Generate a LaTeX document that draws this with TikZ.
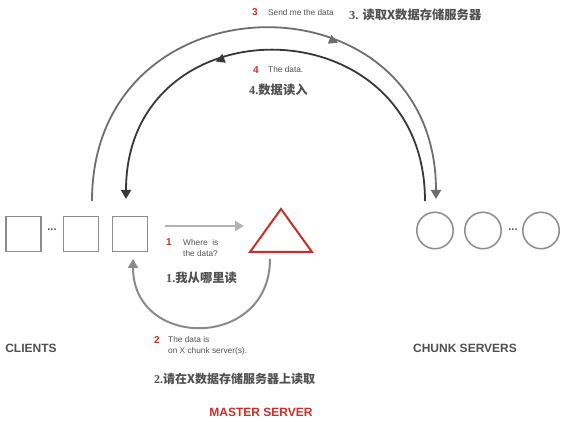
\documentclass[tikz,border=0pt]{standalone}
\usepackage{fontspec}
\setmainfont{Liberation Sans}
\newfontfamily\cjk{Noto Sans CJK SC}
\newfontfamily\numfont{Liberation Serif}
\usetikzlibrary{arrows.meta,decorations.markings}
\definecolor{gfsred}{HTML}{C4302B}
\definecolor{arcgray}{HTML}{6E6E6E}
\definecolor{arcdark}{HTML}{383838}
\definecolor{arclight}{HTML}{8A8A8A}
\definecolor{boxgray}{HTML}{8C8C8C}
\definecolor{txtgray}{HTML}{505050}
\tikzset{
  client/.style={draw=boxgray,line width=1.5pt,minimum size=35pt,inner sep=0pt},
  chunk/.style={circle,draw=boxgray,line width=1.5pt,minimum size=36.5pt,inner sep=0pt},
  role/.style={font=\bfseries\fontsize{12}{14}\selectfont,text=txtgray},
  stepno/.style={font=\bfseries\fontsize{10}{12}\selectfont,text=gfsred,anchor=west,inner sep=0pt},
  note/.style={font=\fontsize{8.3}{10.5}\selectfont,text=txtgray,align=left,anchor=west,inner sep=0pt},
  zhnote/.style={font=\cjk\bfseries\fontsize{12.3}{14}\selectfont,text=txtgray,anchor=west,inner sep=0pt},
  dotsep/.style={font=\bfseries\fontsize{11}{11}\selectfont,text=txtgray,inner sep=0pt},
  tip/.style={-{Triangle[length=9pt,width=10pt]}},
  midtip/.style={postaction={decorate},decoration={markings,
    mark=at position #1 with {\arrow{Triangle[length=9pt,width=9pt]}}}},
}
\begin{document}
\begin{tikzpicture}[x=1pt,y=1pt]
    \useasboundingbox (0,0) rectangle (568,-422);
    % clients
    \node[client] (c1) at (23.5,-234) {};
    \node[client] (c2) at (81,-234) {};
    \node[client] (c3) at (130,-234) {};
    \node[dotsep] (cdots) at (52,-230) {...};
    % chunk servers
    \node[chunk] (s1) at (435,-230.5) {};
    \node[chunk] (s2) at (483,-230.5) {};
    \node[chunk] (s3) at (541,-230.5) {};
    \node[dotsep] (sdots) at (513,-230) {...};
    % master server
    \coordinate (mtop) at (281,-209);
    \draw[gfsred,line width=2pt] (mtop) -- (312,-252) -- (250,-252) -- cycle;
    % end points of the connectors
    \coordinate (q1) at (165,-226);
    \coordinate (q2) at (244,-226);
    \coordinate (a1) at (270,-259);
    \coordinate (a2) at (133,-259);
    \coordinate (o1) at (92,-201);
    \coordinate (o2) at (436,-199);
    \coordinate (i1) at (425,-201);
    \coordinate (i2) at (126,-199);
    % step 1 and 2
    \draw[draw=black!30,line width=2pt,tip] (q1) -- (q2);
    \draw[arclight,line width=2pt,tip] (a1) to[out=-90,in=-90,looseness=1.7] (a2);
    % step 3 and 4
    \draw[arcgray,line width=1.8pt,tip,midtip=0.64] (o1) to[out=90,in=90,looseness=1.7] (o2);
    \draw[arcdark,line width=1.8pt,tip,midtip=0.63] (i1) to[out=90,in=90,looseness=1.7] (i2);
    % labels
    \node[role] (clients) at (31,-348) {CLIENTS};
    \node[role] (chunks) at (465,-348) {CHUNK SERVERS};
    \node[role,text=gfsred] (master) at (261,-412) {MASTER SERVER};
    \node[stepno] (n1) at (166,-242) {1};
    \node[note] (t1) at (183,-248) {Where\ \ is\\the data?};
    \node[zhnote] (z1) at (166,-278) {{\numfont 1.}我从哪里读};
    \node[stepno] (n2) at (154,-340) {2};
    \node[note] (t2) at (168,-346) {The data is\\on X chunk server(s).};
    \node[zhnote,font=\cjk\bfseries\fontsize{12}{14}\selectfont] (z2) at (154,-379) {{\numfont 2.}请在X数据存储服务器上读取};
    \node[stepno] (n3) at (252,-12) {3};
    \node[note] (t3) at (268,-13) {Send me the data};
    \node[zhnote] (z3) at (349,-15) {{\numfont 3. }读取X数据存储服务器};
    \node[stepno] (n4) at (253,-70) {4};
    \node[note] (t4) at (268,-70) {The data.};
    \node[zhnote] (z4) at (249,-90) {{\numfont 4.}数据读入};
\end{tikzpicture}
\end{document}
